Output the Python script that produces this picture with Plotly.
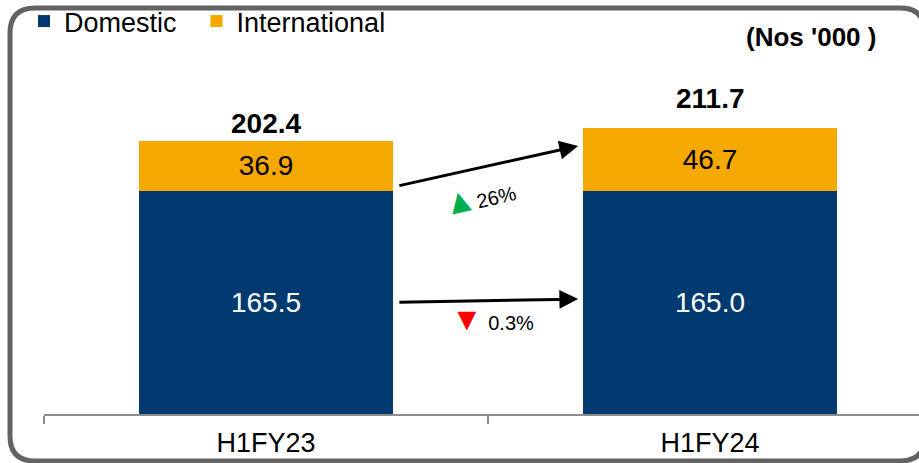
import plotly.graph_objects as go

categories = ["H1FY23", "H1FY24"]
domestic = [165.5, 165.0]
international = [36.9, 46.7]
totals = [202.4, 211.7]
change_intl = "26%"
change_dom = "0.3%"
unit_label = "(Nos '000 )"

FONT = "Liberation Sans, Arial, sans-serif"
DOM_C = "#003A70"
INT_C = "#F5A800"

W, H = 919, 463
ML, MR, MT, MB = 44, 0, 40, 49
PW, PH = W - ML - MR, H - MT - MB
YMAX = 277.2


def px_x(p):
    return (p - ML) / PW


def px_y(p):
    return (H - MB - p) / PH


NBSP = "\u00a0"
fig = go.Figure()
fig.add_trace(go.Bar(
    x=categories, y=domestic, name="Domestic" + NBSP * 2, marker=dict(color=DOM_C, line=dict(width=0)),
    text=[f"{v:.1f}" for v in domestic], textposition="inside", insidetextanchor="middle",
    textfont=dict(size=28, color="white", family=FONT), cliponaxis=False,
))
fig.add_trace(go.Bar(
    x=categories, y=international, name="International", marker=dict(color=INT_C, line=dict(width=0)),
    text=[f"{v:.1f}" for v in international], textposition="inside", insidetextanchor="middle",
    textfont=dict(size=28, color="black", family=FONT), cliponaxis=False,
))

BAR_W = 0.574
shifts = [0, 12]
annotations = []
for i, (c, t) in enumerate(zip(categories, totals)):
    annotations.append(dict(x=c, y=t, text=f"<b>{t:.1f}</b>", showarrow=False,
                            yanchor="bottom", yshift=shifts[i],
                            font=dict(size=28, color="black", family=FONT)))

# arrows between bars
x_tail = 0 + BAR_W / 2 + 0.01
x_head = 1 - BAR_W / 2 - 0.01
annotations.append(dict(x=x_head, y=totals[1] - 13, ax=x_tail, ay=domestic[0] + 3.5,
                        xref="x", yref="y", axref="x", ayref="y", text="", showarrow=True,
                        arrowhead=2, arrowsize=1.25, arrowwidth=3, arrowcolor="black"))
annotations.append(dict(x=x_head, y=domestic[1] / 2 + 2.7, ax=x_tail, ay=domestic[0] / 2,
                        xref="x", yref="y", axref="x", ayref="y", text="", showarrow=True,
                        arrowhead=2, arrowsize=1.25, arrowwidth=3, arrowcolor="black"))
annotations.append(dict(x=0.48, y=domestic[0] - 4, xref="x", yref="y", showarrow=False,
                        text=f"<span style='color:#00B050;font-size:34px'>▲</span>{change_intl}",
                        textangle=-13, font=dict(size=20, color="black", family=FONT)))
annotations.append(dict(x=0.509, y=domestic[1] / 2 - 12, xref="x", yref="y", showarrow=False,
                        text=f"<span style='color:#FF0000;font-size:32px'>▼</span> {change_dom}",
                        font=dict(size=20, color="black", family=FONT)))
annotations.append(dict(x=px_x(811), y=px_y(37), xref="paper", yref="paper", showarrow=False,
                        text=f"<b>{unit_label}</b>", xanchor="center", yanchor="middle",
                        font=dict(size=26, color="black", family=FONT)))

# rounded border
L, T, R, B, r = 10, 8, 925, 461, 25
def P(x, y):
    return f"{px_x(x):.5f},{px_y(y):.5f}"
path = (f"M {P(L + r, T)} L {P(R - r, T)} Q {P(R, T)} {P(R, T + r)} "
        f"L {P(R, B - r)} Q {P(R, B)} {P(R - r, B)} L {P(L + r, B)} "
        f"Q {P(L, B)} {P(L, B - r)} L {P(L, T + r)} Q {P(L, T)} {P(L + r, T)} Z")

fig.update_layout(
    width=W, height=H, barmode="stack", bargap=1 - BAR_W,
    margin=dict(l=ML, r=MR, t=MT, b=MB, autoexpand=False),
    paper_bgcolor="white", plot_bgcolor="white",
    font=dict(family=FONT, color="black"),
    showlegend=True,
    legend=dict(orientation="h", x=px_x(24), y=px_y(-3), xanchor="left", yanchor="top",
                font=dict(size=27, family=FONT, color="black"), traceorder="normal",
                bgcolor="rgba(0,0,0,0)", itemclick=False),
    xaxis=dict(range=[-0.5, -0.5 + PW / 444], showline=True, linecolor="#8c8c8c", linewidth=2,
               ticks="outside", tickson="boundaries", ticklen=8, tickcolor="#8c8c8c", tickwidth=2,
               ticklabelstandoff=4,
               tickfont=dict(size=27, family=FONT, color="black"), showgrid=False, zeroline=False,
               fixedrange=True),
    yaxis=dict(range=[0, YMAX], visible=False, fixedrange=True),
    annotations=annotations,
    shapes=[dict(type="path", path=path, xref="paper", yref="paper",
                 line=dict(color="#636363", width=5), fillcolor="rgba(0,0,0,0)", layer="above")],
)

fig.write_html("out.html", config={"displayModeBar": False},
               post_script="document.body.style.margin='0px';document.body.style.overflow='hidden';")
